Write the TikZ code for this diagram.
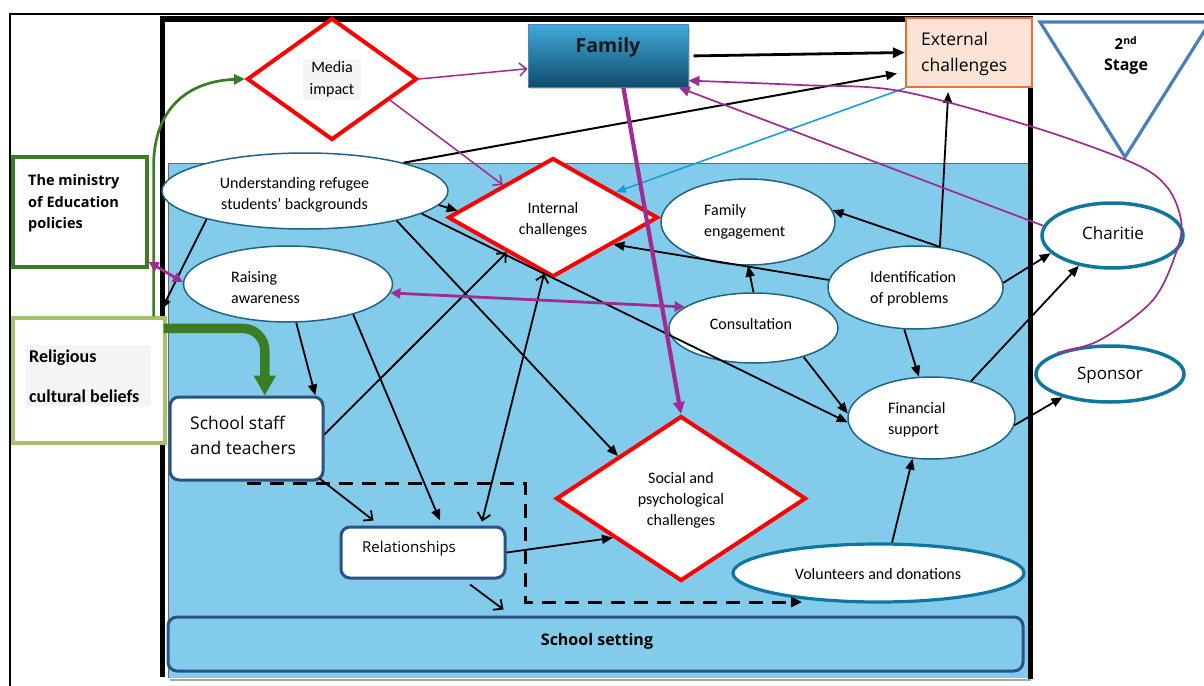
\documentclass[tikz,border=0pt]{standalone}
\usepackage{fontspec}
\setmainfont{Carlito}
\newfontfamily\aptfont{Open Sans}
\usetikzlibrary{shapes.geometric,arrows.meta,shadows,calc}
\definecolor{poolblue}{HTML}{83CBEB}
\definecolor{ellline}{HTML}{1F6483}
\definecolor{thickteal}{HTML}{0E77A0}
\definecolor{navy}{HTML}{2A5287}
\definecolor{plum}{HTML}{A02B93}
\definecolor{skyline}{HTML}{1A9ED8}
\definecolor{leaf}{HTML}{3A7D22}
\definecolor{paleleaf}{HTML}{A6C36B}
\definecolor{peach}{HTML}{FBE3D6}
\definecolor{orangeline}{HTML}{E97132}
\definecolor{steel}{HTML}{4A7EBB}
\definecolor{famtop}{HTML}{3FA9DA}
\definecolor{fambot}{HTML}{104B6C}
\definecolor{famedge}{HTML}{4A86B8}
\definecolor{labelbg}{HTML}{F3F4F6}
\begin{document}
\begin{tikzpicture}[x=1pt,y=-1pt,
  oval/.style={ellipse,draw=ellline,line width=1.5pt,fill=white,inner sep=0pt},
  bigoval/.style={ellipse,draw=thickteal,line width=3.5pt,fill=white,inner sep=0pt},
  redgem/.style={diamond,draw=red,line width=4pt,fill=white,inner sep=0pt},
  card/.style={draw=navy,line width=3pt,fill=white,rounded corners=9pt,inner sep=0pt},
  txt/.style={font=\fontsize{16}{21}\selectfont,align=center,inner sep=0pt},
  ltxt/.style={font=\fontsize{16}{21}\selectfont,align=left,inner sep=0pt,anchor=west},
  blk/.style={line width=1.8pt,-{Triangle[length=11pt,width=9pt]}},
  openblk/.style={line width=1.8pt,-{Straight Barb[length=7pt,width=13pt,line width=1.8pt]}},
  plumopen/.style={draw=plum,line width=1.5pt,-{Straight Barb[length=7pt,width=13pt,line width=1.5pt]}},
  plumtip/.style={draw=plum,line width=1.7pt,-{Triangle[length=11pt,width=10pt]}},
  plumboth/.style={draw=plum,line width=2.8pt,{Triangle[length=10pt,width=10pt]}-{Triangle[length=10pt,width=10pt]}}
]
\useasboundingbox (0,0) rectangle (1204,685);
\fill[white] (0,0) rectangle (1204,685);

% outer frame and inner stage frame
\draw[line width=1.8pt] (10,700) -- (10,14) -- (1230,14);
\fill[poolblue] (168,163) rectangle (1029,678);
\draw[gray!80!black,line width=1pt] (168,678) -- (168,163) -- (1029,163);
\draw[black!35,line width=2pt] (170,680) -- (1031,680);
\draw[line width=5.5pt] (162.5,677) -- (162.5,19) -- (1030.5,19) -- (1030.5,679);

% second stage marker
\draw[steel,line width=3.2pt,line join=miter] (1040,22) -- (1210,22) -- (1125,157) -- cycle;
\node[font=\aptfont\bfseries\fontsize{15}{18}\selectfont,inner sep=0pt] (stage-num) at (1126,43) {2\textsuperscript{nd}};
\node[font=\aptfont\bfseries\fontsize{16}{18}\selectfont,inner sep=0pt] (stage-t) at (1126,67) {Stage};

% outside factors
\node[draw=leaf,line width=3.2pt,fill=white,minimum width=134pt,minimum height=110pt,inner sep=0pt] (ministry) at (80,212) {};
\node[font=\aptfont\bfseries\fontsize{14.5}{21.5}\selectfont,align=left,anchor=west,inner sep=0pt] (ministry-t) at (28,203.5) {The ministry\\of Education\\policies};
\node[draw=paleleaf,line width=3.2pt,fill=white,minimum width=152pt,minimum height=125pt,inner sep=0pt] (relig) at (89,380.5) {};
\node[fill=labelbg,minimum width=125pt,minimum height=61pt,inner sep=0pt] (relig-bg) at (88.5,375.5) {};
\node[font=\bfseries\fontsize{18}{40}\selectfont,align=left,anchor=west,inner sep=0pt] (relig-t) at (29,376) {Religious\\cultural beliefs};

% top row
\node[redgem,minimum width=170pt,minimum height=122pt] (media) at (332,79) {};
\node[txt,fill=labelbg,minimum width=58pt,minimum height=41pt,font=\fontsize{16}{22}\selectfont] (media-t) at (332,79.5) {Media\\impact};
\node[draw=famedge,line width=1pt,top color=famtop,bottom color=fambot,minimum width=160pt,minimum height=62pt,inner sep=0pt,drop shadow={opacity=0.35,shadow xshift=2pt,shadow yshift=-2pt}] (family) at (608,56) {};
\node[font=\aptfont\bfseries\fontsize{19.5}{22}\selectfont,inner sep=0pt,text=black!90] (family-t) at (608,47) {Family};
\node[draw=orangeline,line width=2.2pt,fill=peach,minimum width=126pt,minimum height=69pt,inner sep=0pt] (extern) at (969,52.5) {};
\node[font=\aptfont\fontsize{17.5}{26}\selectfont,align=left,anchor=west,inner sep=0pt] (extern-t) at (921,54) {External\\challenges};

% school field
\node[oval,minimum width=286pt,minimum height=76pt] (under) at (305,191) {};
\node[txt] (under-t) at (294.5,195) {Understanding refugee\\students’ backgrounds};
\node[oval,minimum width=209pt,minimum height=76pt] (raise) at (288,284) {};
\node[ltxt] (raise-t) at (231,288) {Raising\\awareness};
\node[redgem,minimum width=210pt,minimum height=119pt] (internal) at (553,217.5) {};
\node[txt] (internal-t) at (553,220) {Internal\\challenges};
\node[oval,minimum width=174pt,minimum height=86pt] (fameng) at (748,222) {};
\node[ltxt] (fameng-t) at (704,222) {Family\\engagement};
\node[oval,minimum width=175pt,minimum height=83pt] (ident) at (915.5,287.5) {};
\node[ltxt] (ident-t) at (870,289) {Identification\\of problems};
\node[oval,minimum width=169pt,minimum height=70pt] (consult) at (753.5,328) {};
\node[txt] (consult-t) at (751,324) {Consultation};
\node[oval,minimum width=167pt,minimum height=82pt] (finance) at (931.5,418) {};
\node[ltxt] (finance-t) at (888,419.5) {Financial\\support};
\node[card,minimum width=153pt,minimum height=83pt] (staff) at (246.5,438.5) {};
\node[font=\aptfont\fontsize{17.5}{25}\selectfont,align=left,anchor=west,inner sep=0pt] (staff-t) at (190,435) {School staff\\and teachers};
\node[redgem,minimum width=250pt,minimum height=165pt] (social) at (681,498.5) {};
\node[txt] (social-t) at (681,500) {Social and\\psychological\\challenges};
\node[card,minimum width=164pt,minimum height=51pt] (relat) at (423,552.5) {};
\node[font=\aptfont\fontsize{15}{18}\selectfont,anchor=west,inner sep=0pt] (relat-t) at (362,549) {Relationships};
\node[oval,draw=thickteal,line width=3.2pt,minimum width=291pt,minimum height=58pt] (volun) at (878.5,573) {};
\node[txt] (volun-t) at (878,574) {Volunteers and donations};
\node[card,fill=poolblue,minimum width=855pt,minimum height=54pt] (setting) at (595.5,644) {};
\node[font=\aptfont\bfseries\fontsize{16}{18}\selectfont,inner sep=0pt] (setting-t) at (597,641) {School setting};

% outside supporters
\node[bigoval,minimum width=141pt,minimum height=65pt] (charitie) at (1112.5,235.5) {};
\node[font=\aptfont\fontsize{17}{20}\selectfont,inner sep=0pt] (charitie-t) at (1113,233) {Charitie};
\node[bigoval,minimum width=148pt,minimum height=56pt] (sponsor) at (1110,374) {};
\node[font=\aptfont\fontsize{17}{20}\selectfont,inner sep=0pt] (sponsor-t) at (1110,375) {Sponsor};

% green influences
\draw[leaf,line width=2.7pt,-{Triangle[length=11pt,width=10pt]}]
  ($(relig.north east)+(-13,0)$) -- ++(0,-150) .. controls +(0,-60) and +(-55,2) .. (media.west);
\draw[leaf,line width=9.5pt,rounded corners=22pt,-{Triangle[length=20pt,width=21pt]}]
  ($(relig.north east)+(-3,12)$) -| (staff.67);

% dashed boundary leading to donations
\coordinate (dashstart) at (247,483);
\coordinate (dashend) at (802,602);
\draw[line width=3pt,dash pattern=on 14pt off 9pt,-{Triangle[length=11pt,width=10pt]}]
  (dashstart) -| ($(dashend)+(-277,0)$) -- (dashend);

% black links
\draw[blk] (under.196) -- ($(relig.north east)+(-5,-7)$);
\draw[blk,line width=2pt,shorten >=8pt] (under.16) -- (extern.197);
\draw[line width=2.8pt,-{Triangle[length=12pt,width=10pt]},shorten <=5pt] (family.east) -- (extern.west);
\draw[blk] (under.354) -- (internal.176);
\draw[blk] (under.349) -- (finance.183);
\draw[blk] (under.342) -- (social.146);
\draw[blk] (ident.175) -- (internal.336);
\draw[blk] (consult.north) -- (fameng.south);
\draw[blk,shorten >=4pt] (ident.59) -- (extern.240);
\draw[blk] (ident.59) -- (fameng.8);
\draw[blk] (ident.3) -- (charitie.196);
\draw[blk] (finance.43) -- (charitie.222);
\draw[blk] (finance.355) -- (sponsor.206);
\draw[blk] (ident.255) -- (finance.107);
\draw[blk] (consult.330) -- (finance.177);
\draw[blk] (volun.66) -- (finance.245);
\draw[blk] (relat.east) -- (social.210);
\draw[blk] (raise.335) -- ($(relat.north)+(17,-5)$);
\draw[blk] (raise.282) -- (staff.32);
\draw[openblk] (staff.3) -- (internal.217);
\draw[openblk] ($(staff.south east)+(-5,-3)$) -- ($(relat.north west)+(34,-5)$);
\draw[openblk] ($(relat.south)+(47,5)$) -- ($(setting.north)+(-92,-6)$);
\draw[line width=1.8pt,{Straight Barb[length=7pt,width=13pt,line width=1.8pt]}-{Straight Barb[length=7pt,width=13pt,line width=1.8pt]}]
  ($(relat.north)+(59,-4)$) -- (internal.261);

% blue link
\draw[skyline,line width=1.6pt,-{Triangle[length=10pt,width=8pt]}] (extern.south west) -- (internal.22);

% magenta links
\draw[plumopen] (media.east) -- (family.189);
\draw[plumopen] (media.340) -- (internal.147);
\draw[plum,line width=4.2pt,-{Triangle[length=12pt,width=11pt]}] (family.296) -- (social.north);
\draw[plumtip] (charitie.172) -- (family.336);
\draw[plumtip] plot[smooth,tension=0.55] coordinates {(sponsor.158) (1100,340) (1153,300) (1177,250) (1181,220) (1167,187) (1133,163) (1033,127) (900,91) (800,85) (family.343)};
\draw[plumboth] (ministry.324) -- (raise.179);
\draw[plumboth] (raise.355) -- (consult.163);
\end{tikzpicture}
\end{document}
